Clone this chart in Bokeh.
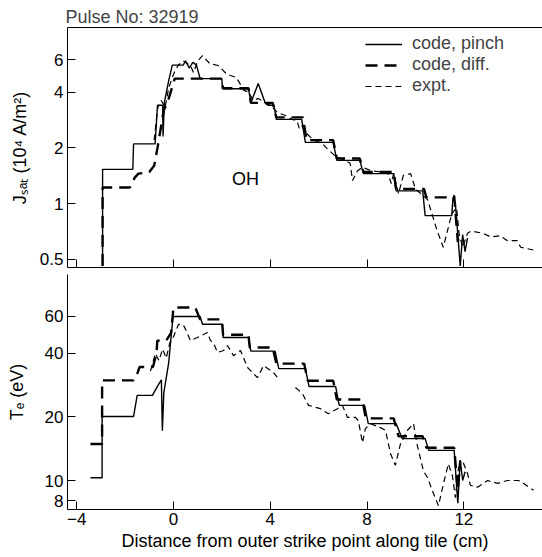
from bokeh.plotting import figure
from bokeh.models import Range1d, FixedTicker, LinearAxis, Legend, LegendItem
from bokeh.layouts import column
from bokeh.core.properties import value
from bokeh.embed import file_html
from bokeh.resources import INLINE

nan = float("nan")

# ---------------- data ----------------
# Top panel: J_sat (10^4 A/m^2) vs distance (cm)
jp_x = [-2.93, -2.93, -1.68, -1.65, -0.76, -0.66, -0.45, -0.43, -0.38, -0.2, -0.05, 0.0, 0.4, 0.5, 0.65, 0.8, 0.95, 1.1,
        2.0, 2.02, 3.1, 3.2, 3.5, 3.8, 3.9, 4.15, 4.25, 5.3, 5.45, 6.6, 6.75, 7.7, 7.85, 9.1, 9.2, 10.3, 10.4, 11.5,
        11.55, 11.65, 11.85, 11.95, 12.05, 12.15]
jp_y = [0.46, 1.53, 1.53, 2.1, 2.1, 3.4, 3.4, 2.3, 3.5, 4.6, 5.6, 5.6, 5.6, 5.9, 5.4, 5.8, 5.6, 4.73,
        4.73, 4.17, 4.17, 3.5, 4.45, 3.47, 3.4, 3.4, 2.85, 2.85, 2.14, 2.14, 1.71, 1.71, 1.45, 1.45, 1.17, 1.17, 0.86, 0.86,
        1.08, 1.0, 0.46, 0.68, 0.55, 0.65]

jd_x = [-2.93, -2.93, -1.8, -1.6, -1.45, -1.0, -0.8, -0.66, -0.4, -0.25, 0.05, 1.05, 2.0, 2.05, 3.1, 3.2, 4.1, 4.25,
        5.35, 5.5, 6.6, 6.75, 7.7, 7.85, 9.1, 9.2, 10.35, 10.45, 11.5, 11.6, 11.75, 11.85]
jd_y = [0.46, 1.22, 1.22, 1.38, 1.45, 1.48, 1.6, 2.0, 3.2, 3.5, 4.73, 4.73, 4.73, 4.2, 4.2, 3.5, 3.5, 2.92,
        2.92, 2.2, 2.2, 1.75, 1.75, 1.48, 1.48, 1.2, 1.2, 1.08, 1.08, 1.1, 0.62, 0.7]

je_x = [-0.8, -0.65, -0.5, -0.35, -0.2, 0.0, 0.2, 0.41, 0.7, 0.83, 1.0, 1.2, 1.5, 1.85, 2.2, 2.6, 2.9, 3.1, 3.3, 3.5,
        3.8, 4.0, 4.3, 4.6, 4.9, 5.1, 5.2, 5.3, 5.45, 5.8, 6.15, 6.4, 6.7, 7.1, 7.3, 7.4, 7.6, 7.8, 8.2, 8.85, 9.0,
        9.1, 9.3, 9.5, 9.8, 10.0, 10.5, 10.9, 11.15, 11.5, 11.7, 11.8, 11.95, 12.15, 12.3, 12.8, 13.1, 13.5, 13.8,
        14.2, 14.35, 14.9]
je_y = [2.2, 3.3, 3.6, 3.3, 4.2, 5.0, 5.6, 5.9, 5.57, 5.1, 5.9, 6.3, 5.7, 5.57, 5.0, 4.8, 4.1, 4.0, 3.6, 3.7,
        3.5, 3.4, 3.1, 3.0, 2.85, 2.81, 2.54, 2.64, 2.42, 2.2, 2.11, 1.95, 1.8, 1.71, 1.65, 1.33, 1.5, 1.57, 1.5, 1.47, 1.28,
        1.45, 1.13, 1.42, 1.45, 1.2, 1.05, 0.71, 0.58, 0.88, 0.95, 0.69, 0.58, 0.69, 0.71, 0.69, 0.66, 0.67, 0.63,
        0.63, 0.58, 0.56]

# Bottom panel: T_e (eV) vs distance (cm)
tp_x = [-3.43, -2.95, -2.95, -1.65, -1.5, -0.87, -0.66, -0.5, -0.46, -0.4, -0.2, -0.02, 1.1, 1.2, 2.02, 2.05, 3.1,
        3.2, 4.2, 4.35, 5.45, 5.6, 6.7, 6.85, 7.9, 8.05, 9.2, 9.45, 10.4, 10.55, 11.6, 11.75, 11.85, 11.95, 12.05]
tp_y = [10.3, 10.3, 20.1, 20.1, 25.3, 25.3, 28, 30, 17.2, 26, 36, 59.8, 59.8, 55, 55, 47.6, 47.6,
        41, 41, 33.9, 33.9, 27.9, 27.9, 22.7, 22.7, 18.6, 18.6, 15.8, 15.8, 13.9, 13.9, 7.8, 12.5, 10, 11]

td_x = [-3.43, -2.95, -2.95, -1.65, -1.5, -1.4, -0.85, -0.7, -0.67, -0.3, -0.1, 0.0, 0.9, 1.1, 2.0, 2.05, 3.1,
        3.15, 4.1, 4.25, 5.4, 5.55, 6.6, 6.75, 7.8, 7.95, 9.1, 9.3, 10.3, 10.45, 11.6, 11.75, 11.85]
td_y = [14.9, 14.9, 29.8, 29.8, 32, 34.5, 34.5, 40, 46, 46, 50, 66, 66, 58, 58, 49, 49,
        42.7, 42.7, 35.8, 35.8, 29.7, 29.7, 24.2, 24.2, 19.7, 19.7, 16.2, 16.2, 14.3, 14.3, 9.0, 12.4]

te_x = [-0.95, -0.75, -0.6, -0.45, -0.3, -0.15, 0.0, 0.21, 0.41, 0.5, 0.7, 0.99, 1.32, 1.4, 1.53, 1.65, 1.82, 2.07,
        2.23, 2.48, 2.77, 3.06, 3.47, 3.72, 4.13, 4.3, 4.6, 5.04, 5.33, 5.58, 6.07, 6.4, 6.78, 6.98, 7.19, 7.52,
        7.64, 7.81, 7.93, 8.14, 8.55, 8.76, 8.97, 9.17, 9.38, 9.67, 9.92, 10.08, 10.33, 10.5, 10.74, 10.95, 11.16,
        11.36, 11.53, 11.65, 11.78, 11.98, 12.15, 12.27, 12.56, 12.98, 13.39, 13.8, 14.26, 14.46, 14.88]
te_y = [33, 40, 37, 42, 38, 45, 48, 55, 54.5, 52, 46, 47.6, 49.7, 50.3, 46, 45, 40.4, 41.3,
        43.6, 39, 41.3, 34.3, 30.7, 35, 32.5, 30.7, nan, 27.6, 25.8, 22.7, 21.9, 20.7, 21.9, 22.7, 19.9, 19.9,
        19.2, 15.1, 17.6, 18.6, 17.8, 17.3, 13.4, 11.8, 14.9, 17.3, 18.6, 14.6, 11.1, 10.3, 8.7, 7.6, 9.7,
        12.0, 10.5, 8.3, 11.5, 12.1, 10.8, 9.5, 9.3, 10, 9.7, 10, 10, 9.7, 9.0]

x_ticks = [-4, 0, 4, 8, 12]
j_ticks = [0.5, 1, 2, 4, 6]
t_ticks = [8, 10, 20, 40, 60]

FONT = "Liberation Sans"
FS = "17px"

def style_axis(ax):
    ax.axis_line_color = "black"
    ax.major_tick_line_color = "black"
    ax.major_tick_in = 8
    ax.major_tick_out = 0
    ax.minor_tick_in = 0
    ax.minor_tick_out = 0
    ax.major_label_text_font = FONT
    ax.major_label_text_font_size = FS
    ax.major_label_text_color = "black"
    ax.axis_label_text_font = FONT
    ax.axis_label_text_font_size = "18px"
    ax.axis_label_text_font_style = "normal"
    ax.axis_label_text_color = "black"
    ax.major_label_standoff = 4

# ---------------- top panel ----------------
p1 = figure(width=542, height=272, y_axis_type="log", output_backend="svg", toolbar_location=None, tools="",
            x_range=Range1d(-4.38, 15.25), y_range=Range1d(0.451, 8.94), x_axis_location=None,
            min_border_left=67, min_border_right=0, min_border_top=27, min_border_bottom=5)
p1.outline_line_color = None
p1.xgrid.visible = False
p1.ygrid.visible = False
p1.title.text = "Pulse No: 32919"
p1.title.align = "left"
p1.title.text_font = FONT
p1.title.text_font_size = "18px"
p1.title.text_font_style = "normal"
p1.title.standoff = 2
p1.title.offset = -2

# bottom x axis of the top panel: inward ticks, no labels
bot_ax = LinearAxis(ticker=FixedTicker(ticks=x_ticks))
style_axis(bot_ax)
bot_ax.major_label_text_font_size = "0px"
bot_ax.major_label_text_alpha = 0
bot_ax.major_label_standoff = 0
bot_ax.major_label_policy = None if False else bot_ax.major_label_policy
p1.add_layout(bot_ax, "below")
bot_ax.formatter.__class__  # keep default formatter
from bokeh.models import CustomJSTickFormatter
bot_ax.formatter = CustomJSTickFormatter(code="return ''")

style_axis(p1.yaxis[0])
p1.yaxis.ticker = FixedTicker(ticks=j_ticks)
p1.yaxis.major_label_overrides = {t: ("%g" % t) for t in j_ticks}
p1.yaxis.axis_label = "J\u209b\u2090\u209c (10\u2074 A/m\u00b2)"
p1.yaxis.axis_label_standoff = 7

top_ax = LinearAxis(ticker=FixedTicker(ticks=[]), major_label_text_font_size="0px",
                    major_tick_in=0, major_tick_out=0, minor_tick_in=0, minor_tick_out=0,
                    axis_line_color="black", major_label_standoff=0)
p1.add_layout(top_ax, "above")

r1 = p1.line(jp_x, jp_y, line_color="black", line_width=1.4)
r2 = p1.line(jd_x, jd_y, line_color="black", line_width=2.4, line_dash="12 7")
r3 = p1.line(je_x, je_y, line_color="black", line_width=1.2, line_dash="6 4")
p1.text(x=[2.98], y=[1.365], text=["OH"], text_font=value(FONT), text_font_size="18px",
        text_align="center", text_baseline="middle", text_color="black")

legend = Legend(items=[LegendItem(label="code, pinch", renderers=[r1]),
                       LegendItem(label="code, diff.", renderers=[r2]),
                       LegendItem(label="expt.", renderers=[r3])],
                location=(298, 171), padding=0, spacing=0, margin=0,
                glyph_width=37, glyph_height=18, label_height=18, label_standoff=10,
                label_text_font=FONT, label_text_font_size="18px",
                background_fill_alpha=0, border_line_color=None)
p1.add_layout(legend, "center")

# ---------------- bottom panel ----------------
p2 = figure(width=542, height=285, y_axis_type="log", output_backend="svg", toolbar_location=None, tools="",
            x_range=Range1d(-4.38, 15.25), y_range=Range1d(7.29, 94.6),
            min_border_left=67, min_border_right=0, min_border_top=2, min_border_bottom=48)
p2.outline_line_color = None
p2.xgrid.visible = False
p2.ygrid.visible = False
style_axis(p2.xaxis[0])
p2.xaxis.ticker = FixedTicker(ticks=x_ticks)
p2.xaxis.major_label_overrides = {t: ("%d" % t).replace("-", "\u2212") for t in x_ticks}
p2.xaxis.major_label_standoff = 3
p2.xaxis.axis_label = "Distance from outer strike point along tile (cm)"
p2.xaxis.axis_label_standoff = 3
style_axis(p2.yaxis[0])
p2.yaxis.ticker = FixedTicker(ticks=t_ticks)
p2.yaxis.major_label_overrides = {t: ("%g" % t) for t in t_ticks}
p2.yaxis.axis_label = "T\u2091 (eV)"
p2.yaxis.axis_label_standoff = 15

p2.line(tp_x, tp_y, line_color="black", line_width=1.4)
p2.line(td_x, td_y, line_color="black", line_width=2.4, line_dash="12 7")
p2.line(te_x, te_y, line_color="black", line_width=1.2, line_dash="6 4")

layout = column(p1, p2, spacing=0)
open("out.html", "w").write(file_html(layout, INLINE))
